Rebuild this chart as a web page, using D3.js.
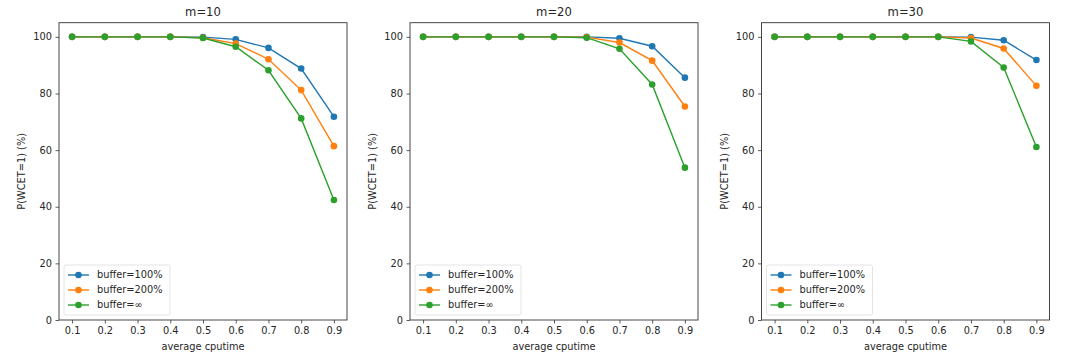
<!DOCTYPE html>
<html><head><meta charset="utf-8">
<script src="https://cdn.jsdelivr.net/npm/d3@7"></script>
<style>body{margin:0;background:#fff}svg text{font-family:"DejaVu Sans",sans-serif;fill:#262626}</style>
</head><body><svg id="c" width="1080" height="354"></svg>
<script>
const xValues = [0.1,0.2,0.3,0.4,0.5,0.6,0.7,0.8,0.9];
const xTicks = [0.1,0.2,0.3,0.4,0.5,0.6,0.7,0.8,0.9];
const yTicks = [0,20,40,60,80,100];
const panelTitles = ["m=10","m=20","m=30"];
const seriesNames = ["buffer=100%","buffer=200%","buffer=\u221e"];
const seriesColors = ["#1f77b4","#ff7f0e","#2ca02c"];
// m=10
const m10_buf100 = [100,100,100,100,99.9,99.1,96.1,88.8,71.8];
const m10_buf200 = [100,100,100,100,99.7,97.6,92.1,81.2,61.4];
const m10_bufInf = [100,100,100,100,99.6,96.5,88.2,71.2,42.4];
// m=20
const m20_buf100 = [100,100,100,100,100,100,99.5,96.7,85.6];
const m20_buf200 = [100,100,100,100,100,99.9,98.0,91.6,75.4];
const m20_bufInf = [100,100,100,100,100,99.7,95.8,83.2,53.8];
// m=30
const m30_buf100 = [100,100,100,100,100,100,99.9,98.8,91.8];
const m30_buf200 = [100,100,100,100,100,100,99.6,95.9,82.7];
const m30_bufInf = [100,100,100,100,100,100,98.4,89.2,61.1];
const panels = [[m10_buf100,m10_buf200,m10_bufInf],[m20_buf100,m20_buf200,m20_bufInf],[m30_buf100,m30_buf200,m30_bufInf]];

(function(){
const svg = d3.select("#c");
const lefts = [59, 410, 761.5];
const W = 288, plotTop = 22.7, plotBottom = 320;
const fs = 9.8;

panels.forEach((series, pi) => {
  const x0 = lefts[pi];
  const g = svg.append("g");
  const x = d3.scaleLinear().domain([0.06,0.94]).range([x0, x0+W]);
  const y = d3.scaleLinear().domain([0,105]).range([plotBottom, plotTop]);

  const xa = g.append("g").attr("transform",`translate(0,${plotBottom})`)
    .call(d3.axisBottom(x).tickValues(xTicks).tickFormat(d3.format(".1f")).tickSizeOuter(0).tickSize(3.5).tickPadding(3.5));
  const ya = g.append("g").attr("transform",`translate(${x0},0)`)
    .call(d3.axisLeft(y).tickValues(yTicks).tickSizeOuter(0).tickSize(3.5).tickPadding(3.5));
  [xa,ya].forEach(a=>{a.select(".domain").remove();a.selectAll("line").attr("stroke","#333").attr("stroke-width",0.8);
    a.selectAll("text").style("font-size",fs+"px").attr("fill","#262626");});
  g.append("rect").attr("x",x0).attr("y",plotTop).attr("width",W).attr("height",plotBottom-plotTop)
    .attr("fill","none").attr("stroke","#333").attr("stroke-width",0.9);

  g.append("text").attr("x",x0+W/2).attr("y",16).attr("text-anchor","middle").style("font-size","11.6px").text(panelTitles[pi]);
  g.append("text").attr("x",x0+W/2).attr("y",350).attr("text-anchor","middle").style("font-size",fs+"px").text("average cputime");
  g.append("text").attr("transform",`translate(${x0-34},${(plotTop+plotBottom)/2}) rotate(-90)`).attr("text-anchor","middle")
    .style("font-size",fs+"px").text("P(WCET=1) (%)");

  const line = d3.line().x((d,i)=>x(xValues[i])).y(d=>y(d));
  series.forEach((vals, si) => {
    g.append("path").datum(vals).attr("d",line).attr("fill","none").attr("stroke",seriesColors[si]).attr("stroke-width",1.4);
    g.selectAll(null).data(vals).enter().append("circle")
      .attr("cx",(d,i)=>x(xValues[i])).attr("cy",d=>y(d)).attr("r",3.3).attr("fill",seriesColors[si]);
  });

  const lg = g.append("g").attr("transform",`translate(${x0+5},${265})`);
  lg.append("rect").attr("width",106).attr("height",50).attr("rx",2).attr("fill","#fff").attr("fill-opacity",0.8).attr("stroke","#ddd").attr("stroke-width",0.8);
  seriesNames.forEach((n, si) => {
    const yy = 10 + si*15;
    lg.append("line").attr("x1",4).attr("x2",25).attr("y1",yy).attr("y2",yy).attr("stroke",seriesColors[si]).attr("stroke-width",1.4);
    lg.append("circle").attr("cx",14.5).attr("cy",yy).attr("r",3.3).attr("fill",seriesColors[si]);
    lg.append("text").attr("x",33).attr("y",yy).attr("dy","0.35em").style("font-size",fs+"px").text(n);
  });
});
})();
</script></body></html>
